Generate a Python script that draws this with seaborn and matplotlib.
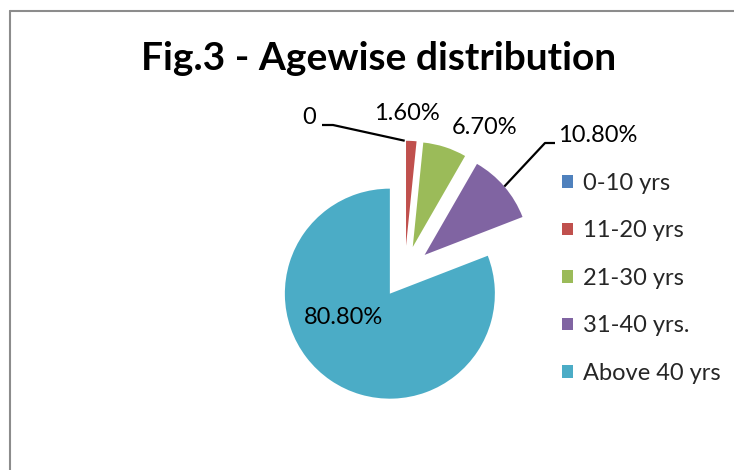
import matplotlib
matplotlib.use("Agg")
import numpy as np
import matplotlib.pyplot as plt
import seaborn as sns
from matplotlib.patches import Patch
from matplotlib.lines import Line2D

sns.set_theme(style="white")
plt.rcParams["font.family"] = ["Lato", "DejaVu Sans"]

# data
age_groups = ["0-10 yrs", "11-20 yrs", "21-30 yrs", "31-40 yrs.", "Above 40 yrs"]
shares = [0, 1.6, 6.7, 10.8, 80.8]
colors = sns.color_palette(["#4F81BD", "#C0504D", "#9BBB59", "#8064A2", "#4BACC6"])
title = "Fig.3 - Agewise distribution"

W, H = 734, 470
R = 105.0            # pie radius in px
cx, cy = 404.7, 272  # pie centre in px (from top-left)

fig = plt.figure(figsize=(W / 100, H / 100), dpi=100)
ax = fig.add_axes([0, 0, 1, 1])

wedges, _ = ax.pie(shares, colors=colors, startangle=90, counterclock=False,
                   explode=[0.25] * len(shares), radius=1,
                   wedgeprops=dict(linewidth=0))
ax.set_aspect("auto")
ax.set_xlim(-cx / R, (W - cx) / R)
ax.set_ylim(-(H - cy) / R, cy / R)
ax.axis("off")


def px(x, y):
    # pixel position -> data coords
    return (x - cx) / R, (cy - y) / R


def outer_mid(w):
    t = np.deg2rad((w.theta1 + w.theta2) / 2)
    return w.center[0] + w.r * np.cos(t), w.center[1] + w.r * np.sin(t)


labels = ["0" if v == 0 else f"{v:.2f}%" for v in shares]
label_pos = [(309, 118), (406.5, 114), (484.5, 128), (598, 135), (343.5, 318)]
for lab, (lx, ly) in zip(labels, label_pos):
    ax.text(*px(lx, ly), lab, ha="center", va="center", fontsize=17, color="black")

# leader lines for "0" and "10.80%"
for i, pts in [(0, [(322, 125), (333, 125)]), (3, [(555, 143), (545, 143)])]:
    xs, ys = zip(*[px(*p) for p in pts])
    ex, ey = outer_mid(wedges[i])
    ax.plot(list(xs) + [ex], list(ys) + [ey], color="black", lw=1.6,
            solid_capstyle="butt")

fig.text(379 / W, 1 - 70 / H, title, ha="center", va="baseline",
         fontsize=28, fontweight="bold", color="black")

handles = [Patch(facecolor=c, edgecolor="none") for c in colors]
fig.legend(handles, age_groups, loc="upper left",
           bbox_to_anchor=(562 / W, 1 - 173 / H), frameon=False,
           fontsize=17, handlelength=0.45, handleheight=0.45,
           handletextpad=0.45, labelspacing=1.12, borderpad=0,
           borderaxespad=0)

# chart border (top and left visible)
fig.add_artist(Line2D([9.5 / W, 9.5 / W], [0, 1 - 10.5 / H],
                      transform=fig.transFigure, color="#8c8c8c", lw=1.5))
fig.add_artist(Line2D([9.5 / W, 1], [1 - 10.5 / H, 1 - 10.5 / H],
                      transform=fig.transFigure, color="#8c8c8c", lw=1.5))

fig.savefig("out.png", dpi=100, facecolor="white")
